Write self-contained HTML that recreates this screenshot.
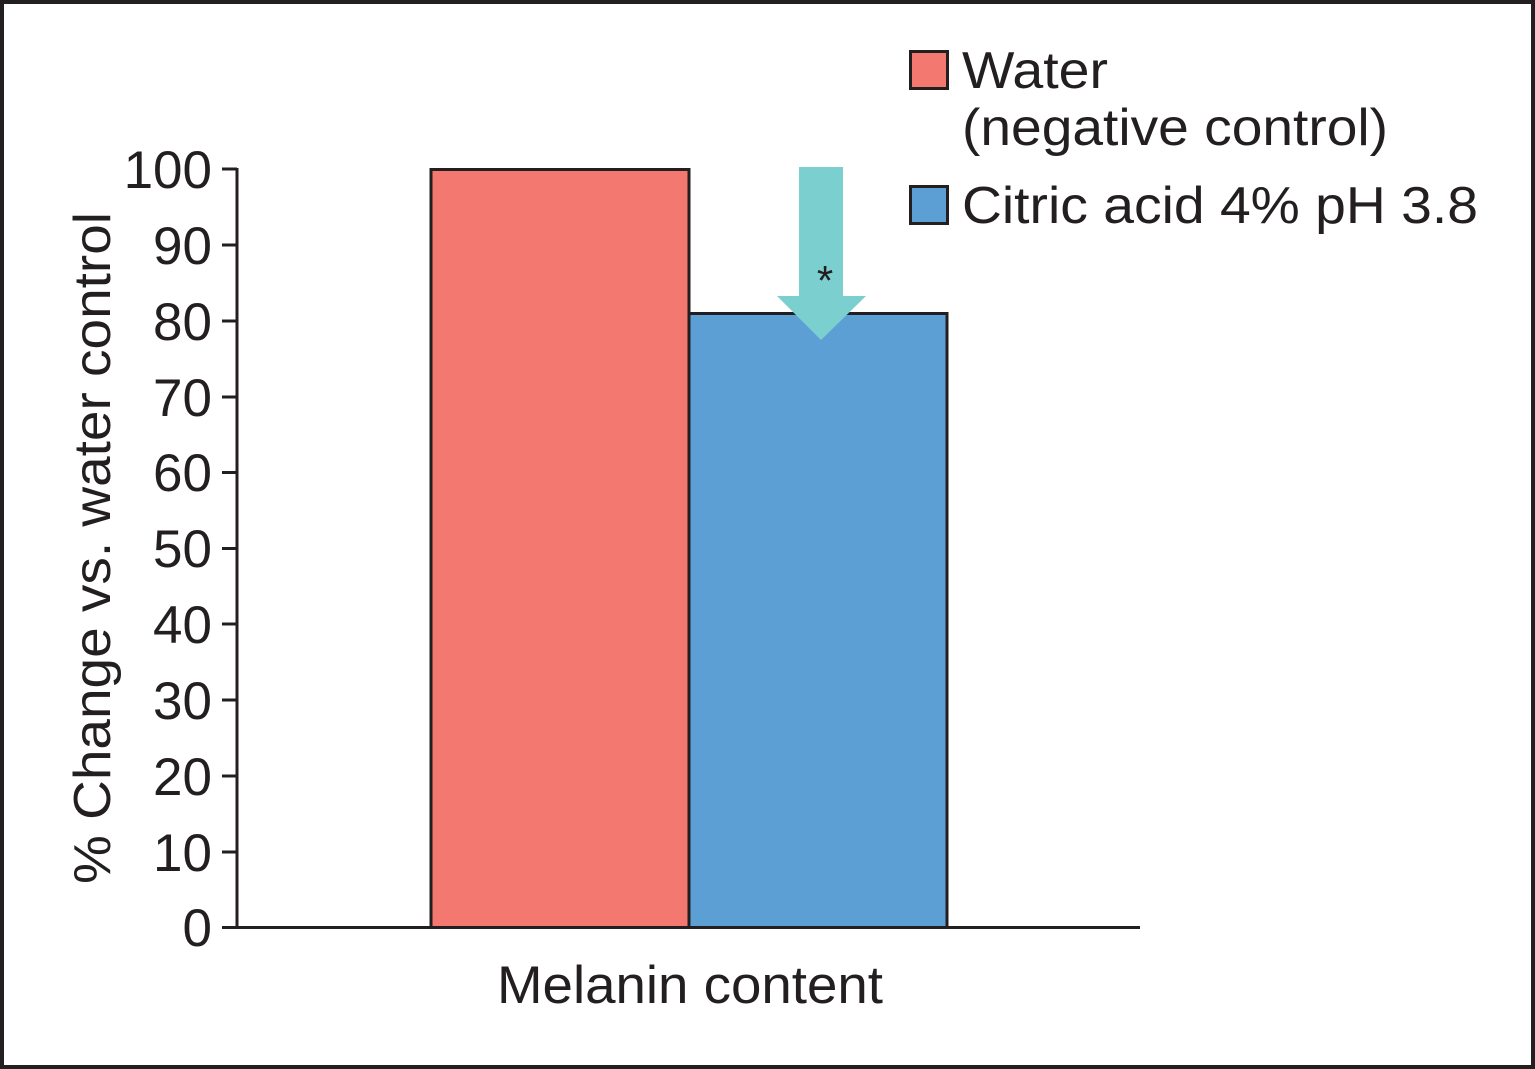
<!DOCTYPE html>
<html><head><meta charset="utf-8"><style>html,body{margin:0;padding:0;background:#fff}svg{display:block}</style></head>
<body>
<svg width="1535" height="1069" viewBox="0 0 1535 1069" xmlns="http://www.w3.org/2000/svg" font-family="Liberation Sans, Arial, sans-serif" fill="#231f20">
<rect x="2" y="2" width="1531" height="1065" fill="#fff" stroke="#231f20" stroke-width="4"/>
<rect x="431" y="169.5" width="258" height="758" fill="#f37870" stroke="#231f20" stroke-width="3"/>
<rect x="689" y="313.5" width="258" height="614" fill="#5b9fd4" stroke="#231f20" stroke-width="3"/>
<polygon points="799,167 843,167 843,296 866,296 821,340 777,296 799,296" fill="#7ccfcf"/>
<text x="825" y="295" font-size="42" text-anchor="middle">*</text>
<g stroke="#231f20" stroke-width="3" fill="none">
<line x1="237" y1="168" x2="237" y2="929"/>
<line x1="222" y1="927.5" x2="1140" y2="927.5"/>
<line x1="222" y1="169" x2="237" y2="169"/>
<line x1="222" y1="245" x2="237" y2="245"/>
<line x1="222" y1="321" x2="237" y2="321"/>
<line x1="222" y1="397" x2="237" y2="397"/>
<line x1="222" y1="472.5" x2="237" y2="472.5"/>
<line x1="222" y1="548.5" x2="237" y2="548.5"/>
<line x1="222" y1="624" x2="237" y2="624"/>
<line x1="222" y1="700" x2="237" y2="700"/>
<line x1="222" y1="776" x2="237" y2="776"/>
<line x1="222" y1="852" x2="237" y2="852"/>
</g>
<g font-size="53" text-anchor="end">
<text x="212" y="188">100</text>
<text x="212" y="264">90</text>
<text x="212" y="340">80</text>
<text x="212" y="416">70</text>
<text x="212" y="491">60</text>
<text x="212" y="567">50</text>
<text x="212" y="643">40</text>
<text x="212" y="719">30</text>
<text x="212" y="795">20</text>
<text x="212" y="871">10</text>
<text x="212" y="946">0</text>
</g>
<text transform="translate(110,548) rotate(-90)" font-size="52" text-anchor="middle" textLength="672" lengthAdjust="spacingAndGlyphs">% Change vs. water control</text>
<text x="690" y="1003" font-size="53" text-anchor="middle" textLength="386" lengthAdjust="spacingAndGlyphs">Melanin content</text>
<rect x="910.5" y="51.5" width="37" height="37" fill="#f37870" stroke="#231f20" stroke-width="3"/>
<rect x="910.5" y="186.5" width="37" height="37" fill="#5b9fd4" stroke="#231f20" stroke-width="3"/>
<g font-size="52">
<text x="962" y="88" textLength="146" lengthAdjust="spacingAndGlyphs">Water</text>
<text x="962" y="145" textLength="426" lengthAdjust="spacingAndGlyphs">(negative control)</text>
<text x="962" y="223" textLength="516" lengthAdjust="spacingAndGlyphs">Citric acid 4% pH 3.8</text>
</g>
</svg>
</body></html>
